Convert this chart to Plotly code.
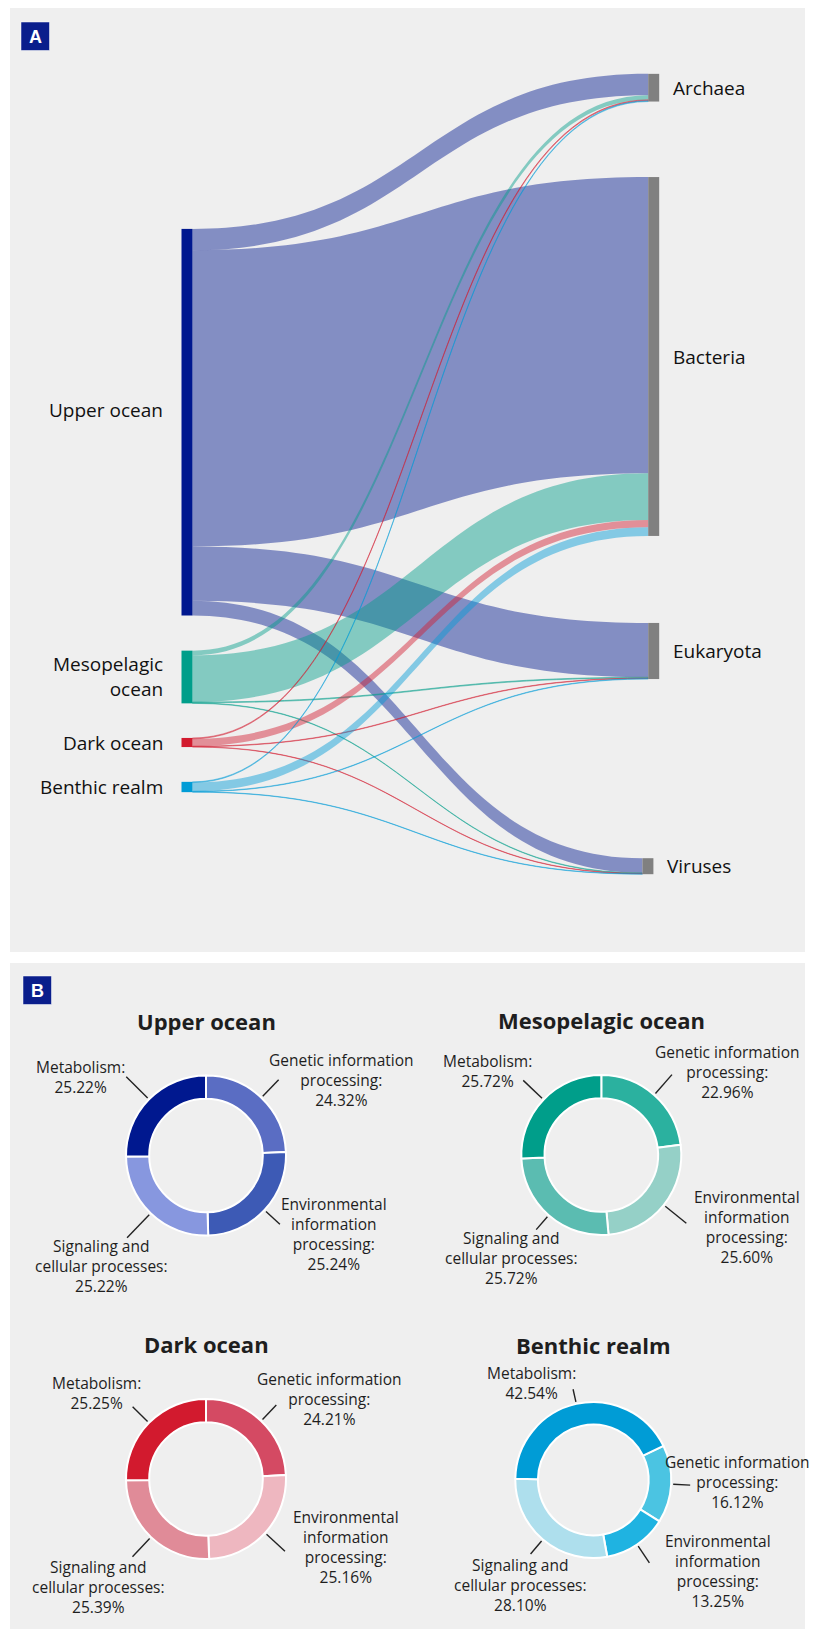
import math
import plotly.graph_objects as go

# ---------------- data ----------------
habitats = ["Upper ocean", "Mesopelagic ocean", "Dark ocean", "Benthic realm"]
taxa = ["Archaea", "Bacteria", "Eukaryota", "Viruses"]

# flow from each habitat to each domain of life (ordered as in `taxa`)
upper_to_taxa = [21.3, 296.3, 54.3, 14.7]
meso_to_taxa = [4.7, 46.7, 0.8, 0.5]
dark_to_taxa = [0.9, 7.3, 0.5, 0.4]
benthic_to_taxa = [0.8, 8.6, 0.5, 0.4]

# functional classes and their share (%) in each habitat
kegg_classes = ["Metabolism", "Genetic information processing",
                "Environmental information processing", "Signaling and cellular processes"]
upper_pct = [25.22, 24.32, 25.24, 25.22]
meso_pct = [25.72, 22.96, 25.60, 25.72]
dark_pct = [25.25, 24.21, 25.16, 25.39]
benthic_pct = [42.54, 16.12, 13.25, 28.10]

# ---------------- styling ----------------
W, H = 815, 1629
PANEL_BG = "#efefef"
TEXT = "#1e1e1e"
SANS = "Open Sans"

habitat_colors = ["#00188f", "#009e8a", "#d21a2e", "#009cd6"]
taxa_color = "#808080"


def rgba(hex_color, a):
    h = hex_color.lstrip("#")
    r, g, b = int(h[0:2], 16), int(h[2:4], 16), int(h[4:6], 16)
    return f"rgba({r},{g},{b},{a})"


def fx(x):
    return x / W


def fy(y):
    return 1 - y / H


shapes = []
annotations = []

# panel backgrounds
shapes.append(dict(type="rect", xref="paper", yref="paper", x0=fx(10), x1=fx(805),
                   y0=fy(952), y1=fy(8), fillcolor=PANEL_BG, line=dict(width=0), layer="below"))
shapes.append(dict(type="rect", xref="paper", yref="paper", x0=fx(10), x1=fx(805),
                   y0=fy(1629), y1=fy(963), fillcolor=PANEL_BG, line=dict(width=0), layer="below"))

# panel badges
for letter, (bx, by) in {"A": (21, 22), "B": (23, 976)}.items():
    shapes.append(dict(type="rect", xref="paper", yref="paper", x0=fx(bx), x1=fx(bx + 28.5),
                       y0=fy(by + 28.5), y1=fy(by), fillcolor="#0a1e8c",
                       line=dict(color="#ffffff", width=0.5), layer="above"))
    annotations.append(dict(text=f"<b>{letter}</b>", x=fx(bx + 14.2), y=fy(by + 14.8),
                            xref="paper", yref="paper", showarrow=False,
                            xanchor="center", yanchor="middle",
                            font=dict(family="Liberation Sans", size=18, color="white")))

# ---------------- panel A: sankey ----------------
SK_TOP, SK_BOT = 20, 940
sk_h = SK_BOT - SK_TOP
flows = [upper_to_taxa, meso_to_taxa, dark_to_taxa, benthic_to_taxa]

src, tgt, val, link_cols = [], [], [], []
for i, row in enumerate(flows):
    for j, v in enumerate(row):
        src.append(i)
        tgt.append(len(habitats) + j)
        val.append(v)
        link_cols.append(rgba(habitat_colors[i], 0.45))

node_names = habitats + taxa
# node centres in page pixels
node_cx = [187, 187, 187, 187, 653.7, 653.7, 653.7, 647.9]
node_cy = [422.2, 677.0, 742.5, 787.0, 87.7, 356.5, 651.0, 866.2]
NODE_W = 11
# four nodes per column -> three gaps; this padding gives one pixel per unit
node_pad = (sk_h - sum(val)) / 3

sankey = go.Sankey(
    domain=dict(x=[0, 1], y=[fy(SK_BOT), fy(SK_TOP)]),
    arrangement="fixed",
    node=dict(
        label=[""] * len(node_names),
        customdata=node_names,
        hovertemplate="%{customdata}<extra></extra>",
        x=[c / W for c in node_cx],
        y=[(c - SK_TOP) / sk_h for c in node_cy],
        color=habitat_colors + [taxa_color] * len(taxa),
        thickness=NODE_W,
        pad=node_pad,
        line=dict(width=0),
    ),
    link=dict(source=src, target=tgt, value=val, color=link_cols, line=dict(width=0)),
)

label_shift = {"Upper ocean": -12}
for k, name in enumerate(node_names):
    text = name.replace("Mesopelagic ocean", "Mesopelagic<br>ocean")
    y = node_cy[k] + label_shift.get(name, 0)
    if k < len(habitats):
        x, anchor, align = node_cx[k] - NODE_W / 2 - 17, "right", "right"
    else:
        x, anchor, align = node_cx[k] + NODE_W / 2 + 12, "left", "left"
    annotations.append(dict(text=text, x=fx(x), y=fy(y), xref="paper", yref="paper",
                            showarrow=False, xanchor=anchor, yanchor="middle", align=align,
                            font=dict(family=SANS, size=19, color="#111111")))

# ---------------- panel B: donuts ----------------
donut_sets = [
    ("Upper ocean", upper_pct, ["#00188f", "#5a6dc3", "#3d5ab5", "#8797df"]),
    ("Mesopelagic ocean", meso_pct, ["#009e8a", "#2bb19f", "#95d0c7", "#5bbcb1"]),
    ("Dark ocean", dark_pct, ["#d21a2e", "#d44a63", "#eeb7c0", "#e08b98"]),
    ("Benthic realm", benthic_pct, ["#009cd6", "#4bc4e2", "#1fb3e1", "#aedfed"]),
]
donut_centre = {"Upper ocean": (206, 1155.5), "Mesopelagic ocean": (601.3, 1155),
                "Dark ocean": (206, 1479), "Benthic realm": (593.3, 1480)}
donut_radius = {"Upper ocean": 80, "Mesopelagic ocean": 80, "Dark ocean": 80, "Benthic realm": 78}
donut_rotation = {"Upper ocean": 0, "Mesopelagic ocean": 0, "Dark ocean": 0, "Benthic realm": 64}
# clockwise slice order starting at the rotation angle
slice_order = [1, 2, 3, 0]

# label block centres relative to donut centre (order of kegg_classes)
label_offset = {
    "Upper ocean": [(-126, -76.5), (135, -70.8), (128, 78), (-105, 106)],
    "Mesopelagic ocean": [(-113.5, -81.7), (126, -79), (145.5, 72), (-90, 98.3)],
    "Dark ocean": [(-109.5, -83.7), (123, -76), (140, 68.2), (-107.5, 103.6)],
    "Benthic realm": [(-62.3, -94.7), (143.7, 2.3), (124.5, 91.2), (-73.3, 100.7)],
}
leader_len = {
    "Upper ocean": [30, 23, 19, 32],
    "Mesopelagic ocean": [26, 25, 27, 17],
    "Dark ocean": [21, 20, 25, 25],
    "Benthic realm": [13, 17, 20, 17],
}
class_lines = {
    "Metabolism": ["Metabolism:"],
    "Genetic information processing": ["Genetic information", "processing:"],
    "Environmental information processing": ["Environmental", "information", "processing:"],
    "Signaling and cellular processes": ["Signaling and", "cellular processes:"],
}
LABEL_SIZE = 15.5
# extra half-line growth of a block, used to keep the edge nearest the ring in place
LINE_GROW = 2.2

traces = [sankey]
for name, pct, cols in donut_sets:
    cx, cy = donut_centre[name]
    r = donut_radius[name]
    rot = donut_rotation[name]
    traces.append(go.Pie(
        labels=[kegg_classes[i] for i in slice_order],
        values=[pct[i] for i in slice_order],
        marker=dict(colors=[cols[i] for i in slice_order], line=dict(color="white", width=2)),
        hole=0.71, sort=False, direction="clockwise", rotation=rot,
        textinfo="none", showlegend=False,
        hovertemplate="%{label}: %{value:.2f}%<extra></extra>",
        domain=dict(x=[fx(cx - r), fx(cx + r)], y=[fy(cy + r), fy(cy - r)]),
    ))

    # title
    annotations.append(dict(text=f"<b>{name}</b>", x=fx(cx), y=fy(cy - 135),
                            xref="paper", yref="paper", showarrow=False,
                            xanchor="center", yanchor="middle",
                            font=dict(family=SANS, size=22, color=TEXT)))

    # mid angle of each slice (clockwise from 12 o'clock)
    total = sum(pct)
    mid = {}
    start = rot
    for i in slice_order:
        span = pct[i] / total * 360
        mid[i] = start + span / 2
        start += span

    for i, cls in enumerate(kegg_classes):
        a = math.radians(mid[i])
        dx, dy = math.sin(a), -math.cos(a)
        r0, r1 = r + 2, r + 2 + leader_len[name][i]
        shapes.append(dict(type="line", xref="paper", yref="paper",
                           x0=fx(cx + r0 * dx), y0=fy(cy + r0 * dy),
                           x1=fx(cx + r1 * dx), y1=fy(cy + r1 * dy),
                           line=dict(color="#222222", width=1.4)))
        lines = class_lines[cls] + [f"{pct[i]:.2f}%"]
        ox, oy = label_offset[name][i]
        grow = (len(lines) - 1) * LINE_GROW
        if oy < -50:
            oy -= grow
        elif ox < 0 and oy > 50:
            oy += grow
        annotations.append(dict(text="<br>".join(lines), x=fx(cx + ox), y=fy(cy + oy),
                                xref="paper", yref="paper", showarrow=False,
                                xanchor="center", yanchor="middle", align="center",
                                font=dict(family=SANS, size=LABEL_SIZE, color=TEXT)))

fig = go.Figure(traces)
fig.update_layout(
    width=W, height=H,
    margin=dict(l=0, r=0, t=0, b=0),
    paper_bgcolor="white",
    plot_bgcolor="white",
    shapes=shapes,
    annotations=annotations,
    showlegend=False,
)
fig.write_html("out.html")
